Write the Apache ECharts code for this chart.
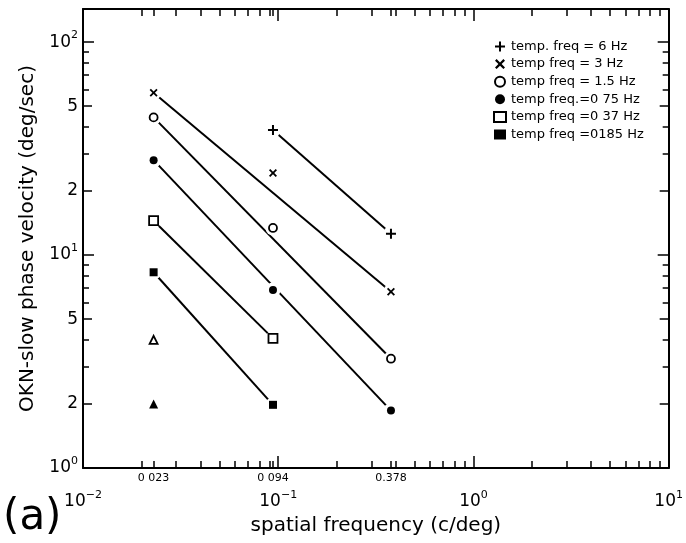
<!DOCTYPE html>
<html><head><meta charset="utf-8">
<script src="https://cdn.jsdelivr.net/npm/echarts@6/dist/echarts.min.js"></script>
<style>html,body{margin:0;padding:0;background:#fff}#c{width:686px;height:543px}</style>
</head><body><div id="c"></div>
<script>
// ---- data ----
const spatialFreq = [0.023, 0.094, 0.378];
const vel6Hz   = [null, 38.6, 12.6];
const vel3Hz   = [57.8, 24.3, 6.73];
const vel15Hz  = [44.3, 13.4, 3.26];
const vel075Hz = [27.9, 6.85, 1.86];
const vel037Hz = [14.5, 4.06, null];
const vel0185Hz= [8.3, 1.98, null];
const openTriangleVel = [4.0, null, null];
const filledTriangleVel = [2.0, null, null];
const seriesNames = ['temp. freq = 6 Hz', 'temp freq = 3 Hz', 'temp freq = 1.5 Hz',
                     'temp freq.=0 75 Hz', 'temp freq =0 37 Hz', 'temp freq =0185 Hz'];

// ---- ticks & labels ----
const xDecadeTicks = [0.01, 0.1, 1, 10];
const xDecadeLabels = ['10^-2', '10^-1', '10^0', '10^1'];
const xMinorTicks = [0.02,0.03,0.04,0.05,0.06,0.07,0.08,0.09,0.2,0.3,0.4,0.5,0.6,0.7,0.8,0.9,2,3,4,5,6,7,8,9];
const xFreqTicks = [0.023, 0.094, 0.378];
const xFreqLabels = ['0 023', '0 094', '0.378'];
const yDecadeTicks = [1, 10, 100];
const yLabelValues = [1, 2, 5, 10, 20, 50, 100];
const yLabelTexts = ['10^0', '2', '5', '10^1', '2', '5', '10^2'];
const yMidTicks = [2, 5, 20, 50];
const yMinorTicks = [3,4,6,7,8,9,30,40,60,70,80,90];

const FONT = 'DejaVu Sans';
const BLACK = '#000';

function labelFmt(values, texts) {
  return function (v) {
    const i = values.findIndex(a => Math.abs(a - v) / a < 1e-6);
    if (i < 0) return '';
    const t = texts[i];
    if (t.indexOf('^') >= 0) {
      const parts = t.split('^');
      return '{b|' + parts[0] + '}{s|' + parts[1].replace('-', '\u2212') + '}';
    }
    return '{b|' + t + '}';
  };
}
const rich = {
  b: { fontSize: 17, fontFamily: FONT, color: BLACK, lineHeight: 24, verticalAlign: 'middle' },
  s: { fontSize: 11, fontFamily: FONT, color: BLACK, lineHeight: 11, verticalAlign: 'top' }
};

const X_MIN = 0.01, X_MAX = 10, Y_MIN = 1, Y_MAX = 143;

function xAx(opts) {
  return Object.assign({
    type: 'log', logBase: 10, min: X_MIN, max: X_MAX, gridIndex: 0, position: 'bottom',
    axisLine: { show: false, onZero: false },
    axisTick: { show: false },
    axisLabel: { show: false },
    splitLine: { show: false }, minorTick: { show: false }, minorSplitLine: { show: false }
  }, opts);
}
function yAx(opts) {
  return Object.assign({
    type: 'log', logBase: 10, min: Y_MIN, max: Y_MAX, gridIndex: 0, position: 'left',
    axisLine: { show: false, onZero: false },
    axisTick: { show: false },
    axisLabel: { show: false },
    splitLine: { show: false }, minorTick: { show: false }, minorSplitLine: { show: false }
  }, opts);
}
function ticks(values, len) {
  return { show: true, inside: true, length: len, customValues: values, lineStyle: { color: BLACK, width: 1.5 } };
}

const xAxes = [
  xAx({
    axisLine: { show: true, onZero: false, lineStyle: { color: BLACK, width: 2 } },
    axisTick: ticks(xDecadeTicks, 12),
    axisLabel: { show: true, customValues: xDecadeTicks, margin: 22, formatter: labelFmt(xDecadeTicks, xDecadeLabels), rich: rich },
    name: 'spatial frequency (c/deg)', nameLocation: 'middle', nameGap: 48, nameMoveOverlap: false,
    nameTextStyle: { fontSize: 20, fontFamily: FONT, color: BLACK }
  }),
  xAx({ axisTick: ticks(xMinorTicks, 7) }),
  xAx({
    axisTick: ticks(xFreqTicks, 7),
    axisLabel: { show: true, customValues: xFreqTicks, margin: 5, fontSize: 11, fontFamily: FONT, color: BLACK,
                 formatter: labelFmt(xFreqTicks, xFreqLabels), rich: { b: { fontSize: 11, fontFamily: FONT, color: BLACK } } }
  }),
  xAx({ position: 'top', axisLine: { show: true, onZero: false, lineStyle: { color: BLACK, width: 2 } }, axisTick: ticks(xDecadeTicks, 12) }),
  xAx({ position: 'top', axisTick: ticks(xMinorTicks, 7) }),
  xAx({ position: 'top', axisTick: ticks(xFreqTicks, 7) })
];
const yAxes = [
  yAx({
    axisLine: { show: true, onZero: false, lineStyle: { color: BLACK, width: 2 } },
    axisTick: ticks(yDecadeTicks, 11),
    axisLabel: { show: true, customValues: yLabelValues, margin: 5, formatter: labelFmt(yLabelValues, yLabelTexts), rich: rich },
    name: 'OKN-slow phase velocity (deg/sec)', nameLocation: 'middle', nameGap: 45, nameMoveOverlap: false,
    nameTextStyle: { fontSize: 20, fontFamily: FONT, color: BLACK }
  }),
  yAx({ axisTick: ticks(yMidTicks, 9) }),
  yAx({ axisTick: ticks(yMinorTicks, 6) }),
  yAx({ position: 'right', axisLine: { show: true, onZero: false, lineStyle: { color: BLACK, width: 2 } }, axisTick: ticks(yDecadeTicks, 11) }),
  yAx({ position: 'right', axisTick: ticks(yMidTicks, 9) }),
  yAx({ position: 'right', axisTick: ticks(yMinorTicks, 6) })
];

function pts(vals) {
  const out = [];
  vals.forEach((v, i) => { if (v != null) out.push([spatialFreq[i], v]); });
  return out;
}
function fitLine(vals) {
  const p = pts(vals);
  return { type: 'line', data: [p[0], p[p.length - 1]], symbol: 'none', silent: true, z: 1,
           lineStyle: { color: BLACK, width: 2 }, animation: false };
}

const PLUS = 'path://M4,0H6V4H10V6H6V10H4V6H0V4H4Z';
const CROSS = 'path://M0,1.6L1.6,0L5,3.4L8.4,0L10,1.6L6.6,5L10,8.4L8.4,10L5,6.6L1.6,10L0,8.4L3.4,5Z';

const markerDefs = [
  { vals: vel6Hz, symbol: PLUS, size: 10, style: { color: BLACK, opacity: 1 } },
  { vals: vel3Hz, symbol: CROSS, size: 8, style: { color: BLACK, opacity: 1 } },
  { vals: vel15Hz, symbol: 'circle', size: 8, style: { color: '#fff', borderColor: BLACK, borderWidth: 1.8, opacity: 1 } },
  { vals: vel075Hz, symbol: 'circle', size: 8, style: { color: BLACK, opacity: 1 } },
  { vals: vel037Hz, symbol: 'rect', size: 9, style: { color: '#fff', borderColor: BLACK, borderWidth: 1.8, opacity: 1 } },
  { vals: vel0185Hz, symbol: 'rect', size: 8, style: { color: BLACK, opacity: 1 } }
];

const allVals = [vel6Hz, vel3Hz, vel15Hz, vel075Hz, vel037Hz, vel0185Hz, openTriangleVel, filledTriangleVel];
const haloData = [].concat.apply([], allVals.map(pts));

const series = [];
[vel6Hz, vel3Hz, vel15Hz, vel075Hz, vel037Hz, vel0185Hz].forEach(v => series.push(fitLine(v)));
series.push({ type: 'scatter', data: haloData, symbol: 'circle', symbolSize: 15, silent: true, z: 2,
              itemStyle: { color: '#fff', opacity: 1 }, animation: false });
markerDefs.forEach((m, i) => series.push({
  type: 'scatter', name: seriesNames[i], data: pts(m.vals), symbol: m.symbol, symbolSize: m.size,
  itemStyle: m.style, z: 3, animation: false
}));
series.push({ type: 'scatter', name: 'open triangle', data: pts(openTriangleVel), symbol: 'triangle', symbolSize: 8,
              itemStyle: { color: '#fff', borderColor: BLACK, borderWidth: 1.8, opacity: 1 }, z: 3, animation: false });
series.push({ type: 'scatter', name: 'filled triangle', data: pts(filledTriangleVel), symbol: 'triangle', symbolSize: 9,
              itemStyle: { color: BLACK, opacity: 1 }, z: 3, animation: false });

const chart = echarts.init(document.getElementById('c'), null, { renderer: 'canvas' });
chart.setOption({
  backgroundColor: '#fff',
  animation: false,
  grid: { left: 83, right: 12, top: 9, bottom: 75, containLabel: false },
  xAxis: xAxes,
  yAxis: yAxes,
  legend: {
    data: seriesNames, orient: 'vertical', left: 488, top: 35,
    itemWidth: 12, itemHeight: 10, itemGap: 4.6, selectedMode: false,
    textStyle: { fontSize: 13, lineHeight: 12, fontFamily: FONT, color: BLACK }
  },
  graphic: [{
    type: 'text', left: 3, top: 497,
    style: { text: '(a)', fontSize: 42, fontFamily: FONT, fill: BLACK }
  }],
  series: series
});
</script></body></html>
